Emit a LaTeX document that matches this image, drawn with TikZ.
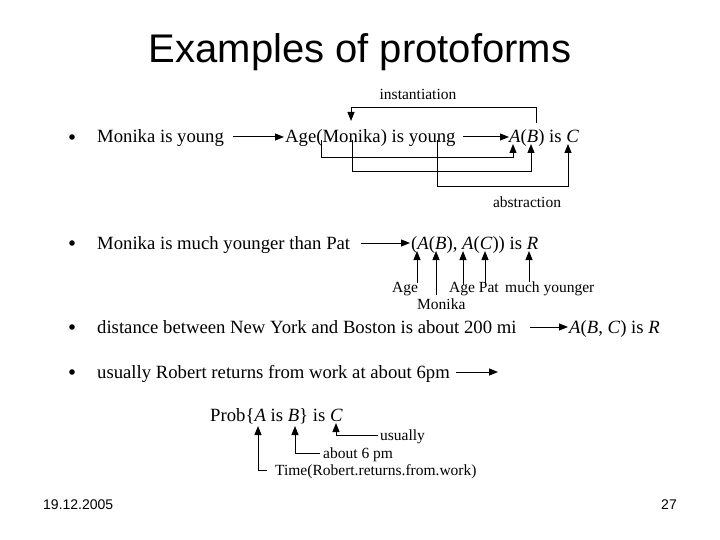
\documentclass[tikz,border=0pt]{standalone}
\usepackage{fontspec}
\setmainfont{Liberation Serif}
\newfontfamily\arialf{Liberation Sans}
\usetikzlibrary{arrows.meta}
\tikzset{
  maintxt/.style={font=\fontsize{18.7}{21}\selectfont, inner sep=0pt, anchor=base west},
  lbltxt/.style={font=\fontsize{15.5}{17}\selectfont, inner sep=0pt},
  conn/.style={line width=1pt},
  arr/.style={line width=1pt, -{Triangle[length=9pt,width=7pt]}},
  bul/.style={circle, fill=black, inner sep=0pt, minimum size=5.6pt}
}
\begin{document}
\begin{tikzpicture}[x=1pt,y=-1pt]
\useasboundingbox (0,0) rectangle (720,540);
% title
\node[font=\arialf\fontsize{40}{44}\selectfont, inner sep=0pt, anchor=base] (title) at (360,63) {Examples of protoforms};
% footer
\node[font=\arialf\fontsize{14}{16}\selectfont, inner sep=0pt, anchor=base west] (date) at (43,509) {19.12.2005};
\node[font=\arialf\fontsize{14}{16}\selectfont, inner sep=0pt, anchor=base] (page) at (669,509) {27};

% ---------- item 1
\node[bul] (b1) at (72,137) {};
\node[maintxt] (t1a) at (97,143) {Monika is young};
\node[maintxt] (t1b) at (285,143) {Age(Monika) is young};
\node[maintxt] (t1c) at (509,143) {\textit{A}(\textit{B}) is \textit{C}};
\coordinate (a1s) at (233,137); \coordinate (a1e) at (284,137);
\draw[arr] (a1s) -- (a1e);
\coordinate (a2s) at (463,137); \coordinate (a2e) at (509,137);
\draw[arr] (a2s) -- (a2e);
\node[lbltxt] (inst) at (418,94) {instantiation};
\coordinate (iB) at (536,123); \coordinate (iM) at (351,121);
\draw[arr] (iB) |- (351,108) -- (iM);
\node[lbltxt] (abst) at (527,202) {abstraction};
\coordinate (sAge) at (321,140); \coordinate (tA) at (513,144);
\coordinate (sMon) at (352,140); \coordinate (tB) at (531,144);
\coordinate (sYou) at (437,140); \coordinate (tC) at (568,144);
\draw[arr] (sAge) -- (321,158) -| (tA);
\draw[arr] (sMon) -- (352,172) -| (tB);
\draw[arr] (sYou) -- (437,187) -| (tC);

% ---------- item 2
\node[bul] (b2) at (72,243) {};
\node[maintxt] (t2a) at (97,249) {Monika is much younger than Pat};
\coordinate (a3s) at (361,243); \coordinate (a3e) at (410,243);
\draw[arr] (a3s) -- (a3e);
\node[maintxt] (t2b) at (411,249) {(\textit{A}(\textit{B}), \textit{A}(\textit{C})) is \textit{R}};
\node[lbltxt, anchor=base west] (lAge1) at (392,292) {Age};
\node[lbltxt, anchor=base west] (lMon) at (417,309) {Monika};
\node[lbltxt, anchor=base west] (lAgePat) at (449,292) {Age Pat};
\node[lbltxt, anchor=base west] (lMuch) at (505,292) {much younger};
\coordinate (u1) at (417,283); \coordinate (v1) at (417,251);
\coordinate (u2) at (436,295); \coordinate (v2) at (436,251);
\coordinate (u3) at (463,285); \coordinate (v3) at (463,251);
\coordinate (u4) at (485,285); \coordinate (v4) at (485,251);
\coordinate (u5) at (529,282); \coordinate (v5) at (529,251);
\draw[arr] (u1) -- (v1);
\draw[arr] (u2) -- (v2);
\draw[arr] (u3) -- (v3);
\draw[arr] (u4) -- (v4);
\draw[arr] (u5) -- (v5);

% ---------- item 3
\node[bul] (b3) at (72,327) {};
\node[maintxt] (t3a) at (97,333) {distance between New York and Boston is about 200 mi};
\coordinate (a4s) at (530,327); \coordinate (a4e) at (568,327);
\draw[arr] (a4s) -- (a4e);
\node[maintxt] (t3b) at (569,333) {\textit{A}(\textit{B}, \textit{C}) is \textit{R}};

% ---------- item 4
\node[bul] (b4) at (72,372) {};
\node[maintxt] (t4a) at (97,378) {usually Robert returns from work at about 6pm};
\coordinate (a5s) at (456,372); \coordinate (a5e) at (498,372);
\draw[arr] (a5s) -- (a5e);

% ---------- formula
\node[maintxt] (f) at (210,421) {Prob\{\textit{A} is \textit{B}\} is \textit{C}};
\node[lbltxt, anchor=base west] (lTime) at (275,475) {Time(Robert.returns.from.work)};
\node[lbltxt, anchor=base west] (l6) at (323,458) {about 6 pm};
\node[lbltxt, anchor=base west] (lUs) at (380,440) {usually};
\draw[arr] (lTime.west) ++(-8,-0.5) -| (258,426);
\draw[arr] (l6.west) ++(-3,-0.5) -| (295,426);
\draw[arr] (lUs.west) ++(-2,-0.5) -| (336,423);
\end{tikzpicture}
\end{document}
